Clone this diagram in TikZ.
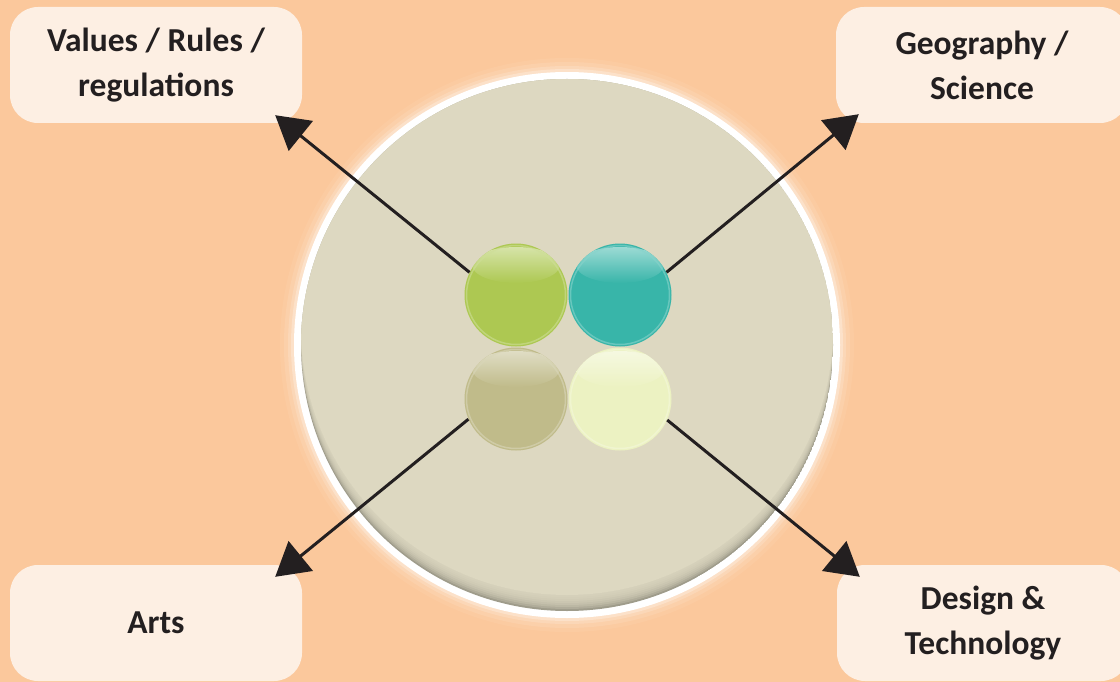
\documentclass[tikz,border=0pt]{standalone}
\usepackage{fontspec}
\setmainfont{Carlito}
\usetikzlibrary{arrows.meta}
\definecolor{peach}{HTML}{FBC89C}
\definecolor{boxfill}{HTML}{FDEFE3}
\definecolor{disc}{HTML}{DDD8C1}
\definecolor{ink}{HTML}{231F20}
\definecolor{leaf}{HTML}{ADC852}
\definecolor{sea}{HTML}{38B5A9}
\definecolor{sand}{HTML}{C0BB8A}
\definecolor{cream}{HTML}{ECF2C2}
\tikzset{
  subject/.style={fill=boxfill, rounded corners=28pt, minimum width=292pt, minimum height=116pt,
    align=center, text=ink, font=\fontsize{33.5}{45}\selectfont\bfseries},
  ball/.style={circle, minimum size=103pt, inner sep=0pt},
  pointer/.style={draw=ink, line width=3pt, -{Triangle[length=33pt,width=38pt]}},
}
\begin{document}
\begin{tikzpicture}[x=1pt,y=-1pt]
\fill[peach] (0,0) rectangle (1120,682);
\useasboundingbox (0,0) rectangle (1120,682);
% big disc with glow and inner shadow
\foreach \r/\o in {287/0.06,283/0.1,279/0.16,276/0.25} \fill[white,opacity=\o] (567,345) circle (\r);
\fill[white] (567,345) circle (273);
\begin{scope}
  \clip (567,345) circle (266);
  \fill[disc!72!black] (567,345) circle (266);
  \fill[disc] (567,345-16) circle (266);
  \foreach \d in {14,12,...,2} \fill[disc,opacity=0.28] (567,345-\d) circle (266);
\end{scope}
% subject boxes
\node[subject] (values) at (156,65) {Values / Rules /\\regulations};
\node[subject] (geo) at (982,65) {Geography /\\Science};
\node[subject] (arts) at (156,623) {Arts};
\node[subject] (design) at (983,623) {Design \&\\Technology};
% four balls
\foreach \name/\x/\y/\c in {leafball/516/295/leaf, seaball/620/295/sea, sandball/516/399/sand, creamball/620/399/cream} {
  \node[ball, fill=\c] (\name) at (\x,\y) {};
  \begin{scope}
    \clip (\x,\y) circle (51.5);
    \shade[top color=\c!50!white, bottom color=\c] (\x,\y-30) ellipse (44 and 18);
    \draw[\c!60!white, line width=1.5pt, opacity=0.6] (\x,\y) circle (49.5);
  \end{scope}
}
% arrows
\draw[pointer] (leafball.154) -- ([xshift=-27pt,yshift=8pt]values.south east);
\draw[pointer] (seaball.26) -- ([xshift=23pt,yshift=9pt]geo.south west);
\draw[pointer] (sandball.203) -- ([xshift=-27pt,yshift=-12pt]arts.north east);
\draw[pointer] (creamball.336) -- ([xshift=23pt,yshift=-12pt]design.north west);
\end{tikzpicture}
\end{document}
